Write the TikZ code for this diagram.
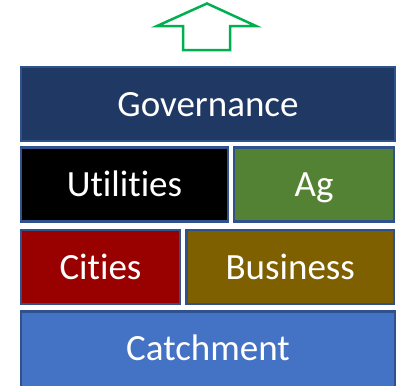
\documentclass[tikz,border=0pt]{standalone}
\usepackage{fontspec}
\setmainfont{Carlito}[Ligatures={NoCommon}]
\usepackage{tikz}
\usetikzlibrary{calc,positioning}
\definecolor{edgeblue}{HTML}{2F528F}
\definecolor{govblue}{HTML}{203864}
\definecolor{aggreen}{HTML}{548235}
\definecolor{cityred}{HTML}{990000}
\definecolor{busbrown}{HTML}{7F6000}
\definecolor{catchblue}{HTML}{4472C4}
\definecolor{arrowgreen}{HTML}{00B050}

\begin{document}
\begin{tikzpicture}[x=1pt,y=-1pt, blk/.style={draw=edgeblue,line width=2.5pt,rectangle,inner sep=0pt,text=white,font=\fontsize{37}{40}\selectfont,text height=24pt,text depth=0pt,minimum height=74pt}]
              \clip (0,0) rectangle (400,386);
              \useasboundingbox (0,0) rectangle (400,386);

              \node[blk,fill=govblue,minimum width=374pt] (gov) at (208,104) {Governance};

              \node[blk,fill=black,minimum width=207pt] (util) at (124.5,184.5) {Utilities};
              \node[blk,fill=aggreen,minimum width=160pt] (ag) at (314,184.5) {Ag};

              \node[blk,fill=cityred,minimum width=159pt] (cit) at (100.5,267) {Cities};
              \node[blk,fill=busbrown,minimum width=207.5pt] (bus) at (290.25,267) {Business};

              \node[blk,fill=catchblue,minimum width=374pt,minimum height=78pt,text depth=4pt] (catch) at (208,350.5) {Catchment};

              % arrow on top
              \draw[arrowgreen,line width=2.5pt,line join=miter] (207,3.5) -- (157,26) -- (183,26) -- (183,50) -- (230,50) -- (230,26) -- (256,26) -- cycle;
            \end{tikzpicture}
\end{document}
